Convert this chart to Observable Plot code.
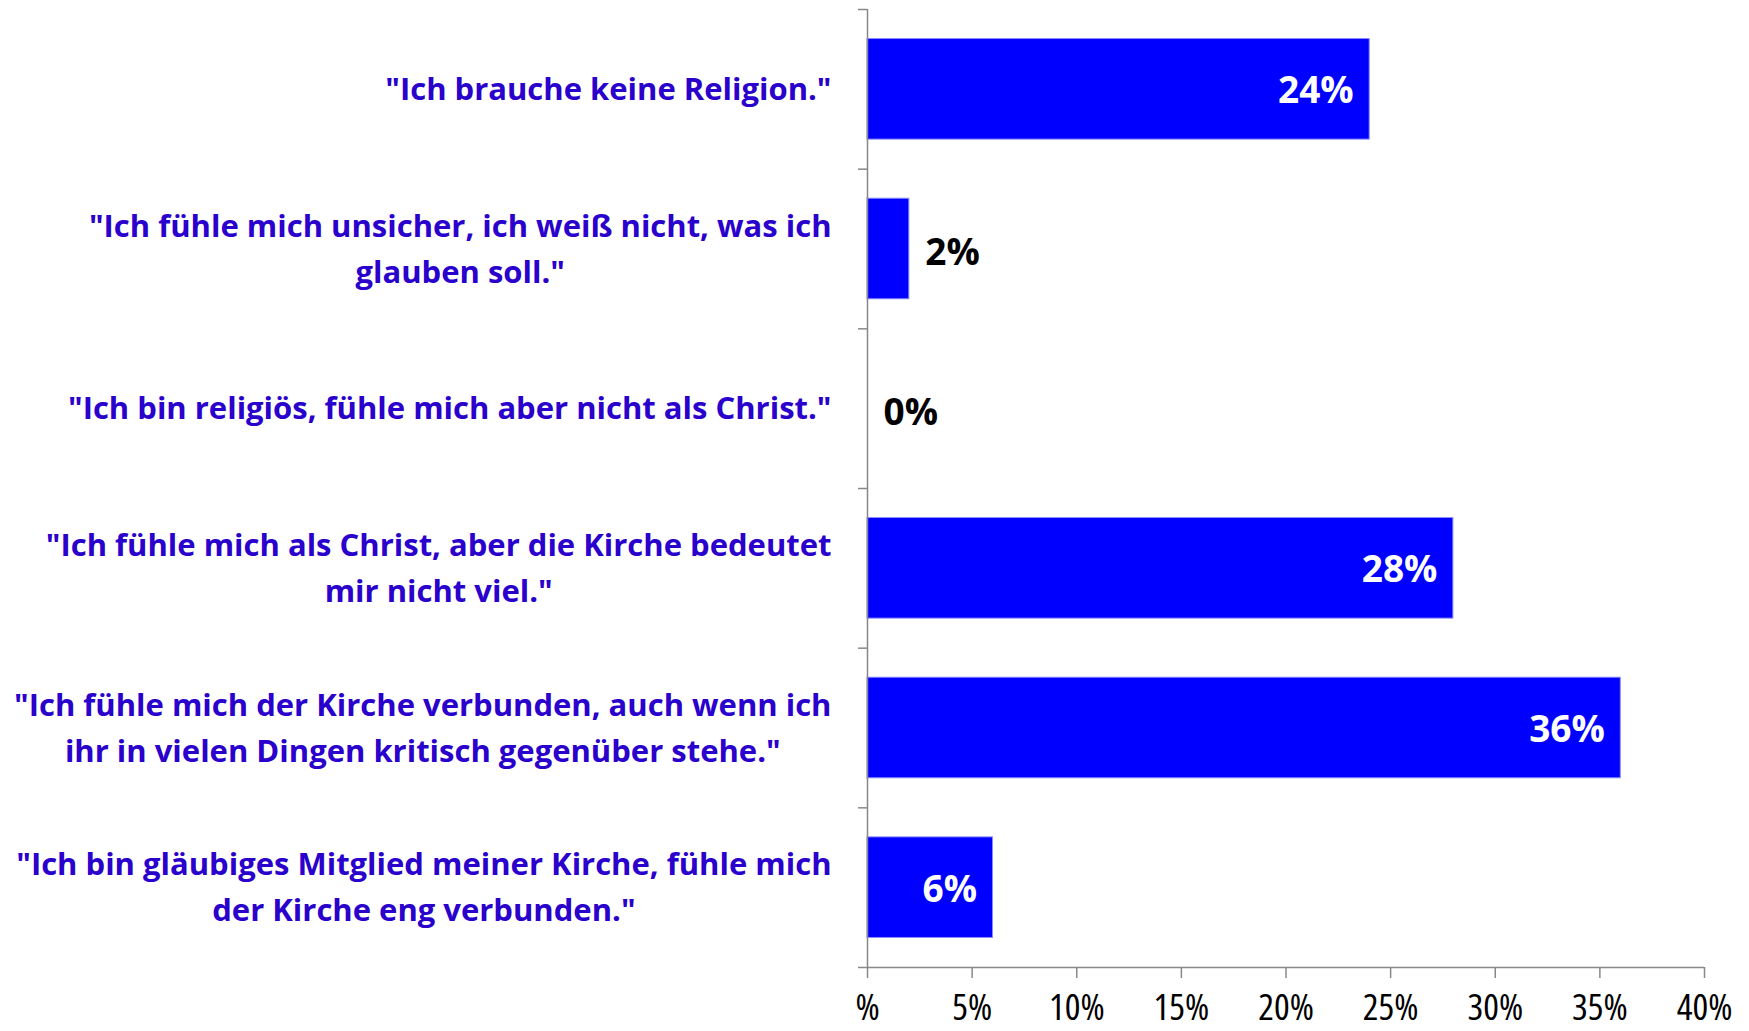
<!DOCTYPE html>
<html>
<head>
<meta charset="utf-8">
<script src="https://cdn.jsdelivr.net/npm/d3@7"></script>
<script src="https://cdn.jsdelivr.net/npm/@observablehq/plot@0.6"></script>
<style>
  html, body { margin: 0; padding: 0; background: #fff; }
  #chart svg { display: block; }
</style>
</head>
<body>
<div id="chart"></div>
<script>
const categories = [
  "\"Ich brauche keine Religion.\"",
  "\"Ich fühle mich unsicher, ich weiß nicht, was ich\nglauben soll.\"",
  "\"Ich bin religiös, fühle mich aber nicht als Christ.\"",
  "\"Ich fühle mich als Christ, aber die Kirche bedeutet\nmir nicht viel.\"",
  "\"Ich fühle mich der Kirche verbunden, auch wenn ich\nihr in vielen Dingen kritisch gegenüber stehe.\"",
  "\"Ich bin gläubiges Mitglied meiner Kirche, fühle mich\nder Kirche eng verbunden.\""
];
const values = [24, 2, 0, 28, 36, 6];
const xTicks = [0, 5, 10, 15, 20, 25, 30, 35, 40];
const xTickLabels = ["%", "5%", "10%", "15%", "20%", "25%", "30%", "35%", "40%"];

const data = categories.map((c, i) => ({category: c, value: values[i], index: i}));

const FONT = "Open Sans";
const catSize = 31;
const catWeight = 700;

// measure each label's widest line to center wrapped lines as in the reference
const canvas = document.createElement("canvas");
const ctx = canvas.getContext("2d");
ctx.font = `${catWeight} ${catSize}px "${FONT}"`;
const blockWidth = categories.map(c => Math.max(...c.split("\n").map(l => ctx.measureText(l).width)));

const labelGap = 36;

const catMarks = data.map((d, i) => Plot.text([d], {
  x: 0,
  y: r => r.index + 0.5,
  text: "category",
  textAnchor: "middle",
  dx: -(labelGap + blockWidth[i] / 2),
  dy: -4,
  fill: "#2a00cc",
  fontSize: catSize,
  fontWeight: catWeight,
  lineHeight: 46 / catSize
}));

const chart = Plot.plot({
  width: 1749,
  height: 1031,
  marginLeft: 867,
  marginRight: 45,
  marginTop: 9,
  marginBottom: 64,
  style: {fontFamily: `"${FONT}", sans-serif`, background: "#fff"},
  x: {domain: [0, 40]},
  y: {domain: [6, 0]},
  marks: [
    Plot.rectX(data.filter(d => d.value > 0), {
      x1: 0,
      x2: "value",
      y1: d => d.index + 0.185,
      y2: d => d.index + 0.815,
      fill: "#0000ff",
      stroke: "#8c8cff",
      strokeWidth: 1
    }),
    Plot.ruleX([0], {y1: 0, y2: 6, stroke: "#888", strokeWidth: 1.5}),
    Plot.ruleY([6], {x1: 0, x2: 40, stroke: "#888", strokeWidth: 1.5}),
    Plot.axisY({
      ticks: [0, 1, 2, 3, 4, 5, 6],
      tickSize: 9,
      tickFormat: () => "",
      stroke: "#888",
      strokeWidth: 1.5,
      label: null
    }),
    Plot.axisX({
      ticks: xTicks,
      tickFormat: d => xTickLabels[xTicks.indexOf(d)],
      tickSize: 11,
      tickPadding: 15,
      stroke: "#888",
      strokeWidth: 1.5,
      fill: "#000",
      fontSize: 37,
      label: null
    }),
    ...catMarks,
    Plot.text(data.filter(d => d.value >= 5), {
      x: "value",
      y: d => d.index + 0.5,
      text: d => `${d.value}%`,
      textAnchor: "end",
      dx: -16,
      dy: 2,
      fill: "#fff",
      fontSize: 37,
      fontWeight: 700
    }),
    Plot.text(data.filter(d => d.value < 5), {
      x: "value",
      y: d => d.index + 0.5,
      text: d => `${d.value}%`,
      textAnchor: "start",
      dx: 16,
      dy: 4,
      fill: "#000",
      fontSize: 37,
      fontWeight: 700
    })
  ]
});

// tick labels use a semi-condensed cut like the reference
chart.querySelectorAll("[aria-label='x-axis tick label']").forEach(g => g.style.fontStretch = "semi-condensed");

document.getElementById("chart").appendChild(chart);
</script>
</body>
</html>
